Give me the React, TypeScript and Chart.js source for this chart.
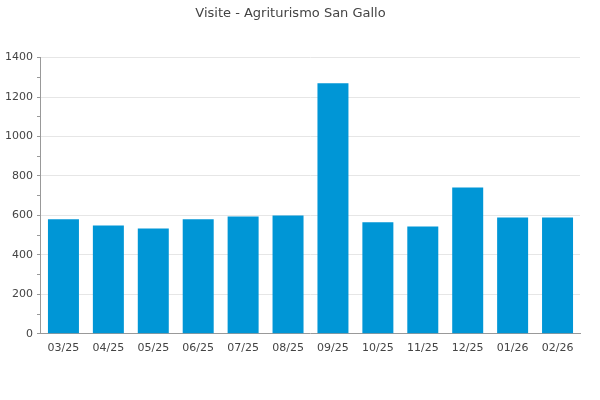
import React, { useEffect, useRef } from "react";
import { Chart, registerables } from "chart.js";

Chart.register(...registerables);

const TITLE = "Visite - Agriturismo San Gallo";
const categories = ["03/25", "04/25", "05/25", "06/25", "07/25", "08/25", "09/25", "10/25", "11/25", "12/25", "01/26", "02/26"];
const visits = [580, 549, 534, 580, 595, 600, 1270, 565, 544, 742, 590, 590];
const yMax = 1400;
const yStep = 100;
const labelStep = 200;

export default function App() {
  const ref = useRef<HTMLCanvasElement>(null);
  useEffect(() => {
    if (!ref.current) return;
    const chart = new Chart(ref.current, {
      type: "bar",
      data: {
        labels: categories,
        datasets: [
          {
            label: "Visite",
            data: visits,
            backgroundColor: "#0096d6",
            borderWidth: 0,
            categoryPercentage: 1,
            barPercentage: 0.69,
          },
        ],
      },
      options: {
        animation: false,
        responsive: false,
        layout: { padding: { top: 4, right: 20, bottom: 37, left: 1 } },
        plugins: {
          legend: { display: false },
          tooltip: { enabled: false },
          title: {
            display: true,
            text: TITLE,
            color: "#444",
            font: { family: "DejaVu Sans", size: 13, weight: "normal" },
            padding: { top: 2, bottom: 36 },
          },
        },
        scales: {
          x: {
            grid: { display: false, drawTicks: false },
            border: { color: "#999", width: 1 },
            ticks: {
              color: "#444",
              font: { family: "DejaVu Sans", size: 11 },
              padding: 8,
              maxRotation: 0,
            },
          },
          y: {
            min: 0,
            max: yMax,
            border: { color: "#999", width: 1 },
            grid: {
              color: (ctx: any) => (ctx.tick && ctx.tick.value % labelStep === 0 && ctx.tick.value !== 0 ? "#e6e6e6" : "transparent"),
              tickColor: "#999",
              tickLength: 4,
              drawTicks: true,
            },
            ticks: {
              stepSize: yStep,
              color: "#444",
              font: { family: "DejaVu Sans", size: 11 },
              padding: 4,
              callback: (v: any) => (Number(v) % labelStep === 0 ? String(v) : ""),
            },
          },
        },
      },
    });
    return () => chart.destroy();
  }, []);
  return (
    <div style={{ position: "fixed", left: 0, top: 0, width: 600, height: 400, background: "#fff" }}>
      <canvas ref={ref} width={600} height={400} />
    </div>
  );
}
